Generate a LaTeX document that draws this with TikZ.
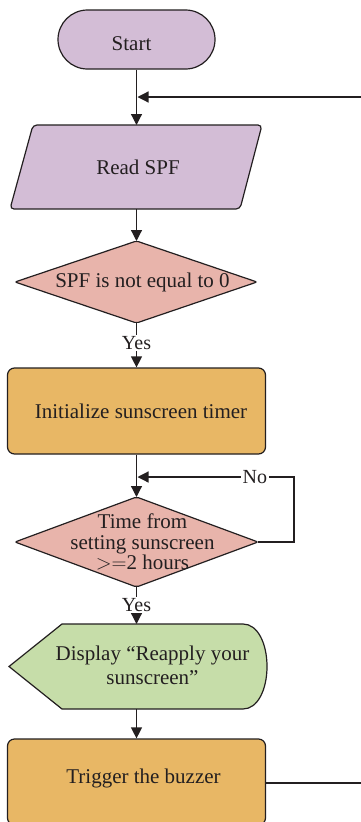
\documentclass[tikz,border=0pt]{standalone}
\usepackage{fontspec}
\setmainfont{Liberation Serif}
\usetikzlibrary{arrows.meta}
\definecolor{lnc}{HTML}{231F20}
\definecolor{purp}{HTML}{D3BDD6}
\definecolor{pinkc}{HTML}{E8B4AB}
\definecolor{orng}{HTML}{E8B765}
\definecolor{grn}{HTML}{C6DDA9}
\tikzset{
  shp/.style={draw=lnc, line width=1.2pt, inner sep=0pt},
  txt/.style={text=lnc, font=\fontsize{21}{20.5}\selectfont, align=center, inner sep=0pt},
  lbl/.style={text=lnc, font=\fontsize{20}{20}\selectfont, fill=white, inner sep=1.5pt},
  arr/.style={draw=lnc, line width=1.2pt, -{Triangle[length=11pt,width=11pt]}},
  ghost/.style={inner sep=0pt, outer sep=0pt},
}
\begin{document}
\begin{tikzpicture}[x=1pt,y=-1pt]
\useasboundingbox (0,0) rectangle (361,822);
\clip (0,0) rectangle (361,822);
\fill[white] (0,0) rectangle (361,822);

% Start
\node[shp, fill=purp, rounded corners=29.5pt, minimum width=157pt, minimum height=59pt] (start) at (136.5,39.5) {};
\node[txt] (startt) at (131.5,44) {Start};

% Read SPF (parallelogram)
\node[ghost, minimum width=252pt, minimum height=84pt] (read) at (136.5,167) {};
\path[shp, fill=purp, rounded corners=4pt] (33,125) -- (262,125) -- (240,209) -- (10,209) -- cycle;
\node[txt] (readt) at (138,167) {Read SPF};

% Diamond 1
\node[ghost, minimum width=242pt, minimum height=82pt] (d1) at (136.5,282) {};
\path[shp, fill=pinkc, rounded corners=2pt] (136.5,241) -- (257,282) -- (136.5,323) -- (15,282) -- cycle;
\node[txt] (d1t) at (142.5,282.5) {SPF is not equal to 0};

% Initialize
\node[shp, fill=orng, rounded corners=7pt, minimum width=258pt, minimum height=86pt] (init) at (136.5,411) {};
\node[txt] (initt) at (141,411) {Initialize sunscreen timer};

% Diamond 2
\node[ghost, minimum width=243pt, minimum height=90pt] (d2) at (136.5,542) {};
\path[shp, fill=pinkc, rounded corners=2pt] (136.5,497) -- (258,542) -- (136.5,587) -- (15,542) -- cycle;
\node[txt] (d2t) at (142.5,542) {Time from\\setting sunscreen\\${>}{=}$2 hours};

% Display
\node[ghost, minimum width=258pt, minimum height=85pt] (disp) at (136.5,666.5) {};
\path[shp, fill=grn] (62,624) -- (243,624)
   .. controls (258,624) and (267,644) .. (267,666.5)
   .. controls (267,689) and (258,709) .. (243,709)
   -- (62,709) -- (9,666.5) -- cycle;
\node[txt, font=\fontsize{21}{24}\selectfont] (dispt) at (152.5,665) {Display “Reapply your\\sunscreen”};

% Trigger
\node[shp, fill=orng, rounded corners=7pt, minimum width=258pt, minimum height=86pt] (trig) at (136.5,782) {};
\node[txt] (trigt) at (143.5,778) {Trigger the buzzer};

% connectors
\coordinate (top1) at (137.5,97);
\coordinate (top2) at (137.5,477);
\coordinate (rr1) at (380,783);
\coordinate (rr2) at (380,97);
\coordinate (nr) at (294,542);
\coordinate (nt) at (294,477);

\draw[arr] (start.south) -- (read.north);
\draw[arr] (read.south) -- (d1.north);
\draw[arr] (d1.south) -- node[lbl, pos=0.45] (yes1) {Yes} (init.north);
\draw[arr] (init.south) -- (d2.north);
\draw[arr] (d2.south) -- node[lbl, pos=0.48] (yes2) {Yes} (disp.north);
\draw[arr] (disp.south) -- (trig.north);
\draw[arr] (d2.east) -- (nr) -- (nt) -- node[lbl, pos=0.25] (no) {No} (top2);
\draw[arr] (trig.east |- 0,783) -- (rr1) -- (rr2) -- (top1);
\end{tikzpicture}
\end{document}
